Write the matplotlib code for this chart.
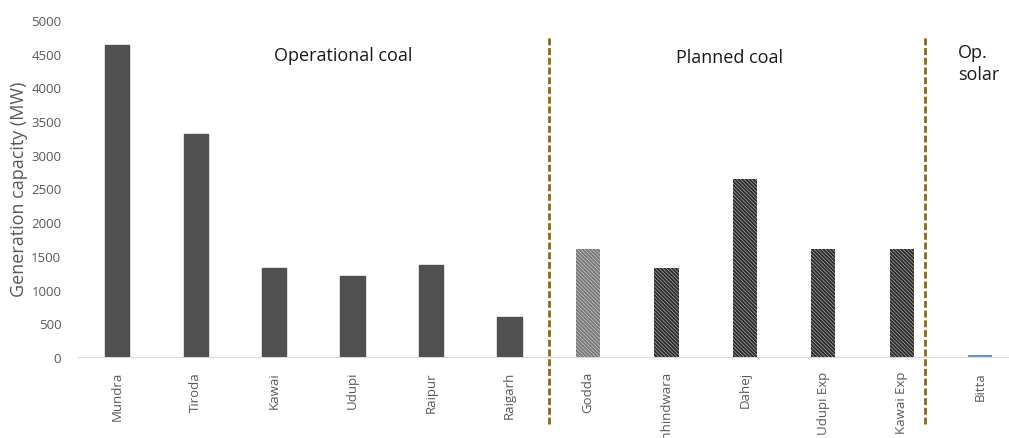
import matplotlib
matplotlib.use('Agg')
import matplotlib.pyplot as plt

plt.rcParams['font.family'] = ['Open Sans', 'DejaVu Sans']
plt.rcParams['hatch.linewidth'] = 1.6

op_coal = ['Mundra', 'Tiroda', 'Kawai', 'Udupi', 'Raipur', 'Raigarh']
op_coal_mw = [4620, 3300, 1320, 1200, 1370, 600]
planned_coal = ['Godda', 'Chhindwara', 'Dahej', 'Udupi Exp', 'Kawai Exp']
planned_coal_mw = [1600, 1320, 2640, 1600, 1600]
op_solar = ['Bitta']
op_solar_mw = [30]

fig = plt.figure(figsize=(10.09, 4.39), dpi=100)
ax = fig.add_axes([0.0773, 0.1845, 0.933, 0.768])

n1 = len(op_coal)
n2 = len(planned_coal)
x1 = list(range(n1))
x2 = list(range(n1, n1 + n2))
x3 = list(range(n1 + n2, n1 + n2 + len(op_solar)))
w = 0.31

ax.bar(x1, op_coal_mw, width=w, color='#505050', edgecolor='#505050', zorder=3)
for i, (xi, v) in enumerate(zip(x2, planned_coal_mw)):
    hc = '#7a7a7a' if i == 0 else '#2e2e2e'
    ax.bar(xi, v, width=w, color='white', edgecolor=hc, hatch='\\' * 9, linewidth=0, zorder=3)
ax.bar(x3, op_solar_mw, width=w, color='#5B9BD5', zorder=3)

ax.set_xlim(-0.5, 11.5)
ax.set_ylim(0, 5000)
ax.set_yticks(range(0, 5001, 500))
ax.set_xticks(x1 + x2 + x3)
ax.set_xticklabels(op_coal + planned_coal + op_solar, rotation=90, va='top')
ax.tick_params(axis='both', length=0, colors='#595959', labelsize=9.5)
ax.tick_params(axis='x', pad=10)
ax.tick_params(axis='y', pad=12)
for s in ['top', 'right', 'left']:
    ax.spines[s].set_visible(False)
ax.spines['bottom'].set_color('#d9d9d9')
ax.set_ylabel('Generation capacity (MW)', fontsize=13, color='#595959', labelpad=2)

# group dividers
ax.plot([5.5, 5.5], [-990, 4750], ls=(0, (2.5, 1)), color='#8B6914', lw=2, clip_on=False, zorder=4)
ax.plot([10.3, 10.3], [-990, 4750], ls=(0, (2.5, 1)), color='#8B6914', lw=2, clip_on=False, zorder=4)

ax.text(2.88, 4480, 'Operational coal', ha='center', va='center', fontsize=13, color='#1a1a1a')
ax.text(7.8, 4450, 'Planned coal', ha='center', va='center', fontsize=13, color='#1a1a1a')
ax.text(10.72, 4360, 'Op.\nsolar', ha='left', va='center', fontsize=13, color='#1a1a1a', linespacing=1.25)

fig.savefig('out.png', dpi=100)
